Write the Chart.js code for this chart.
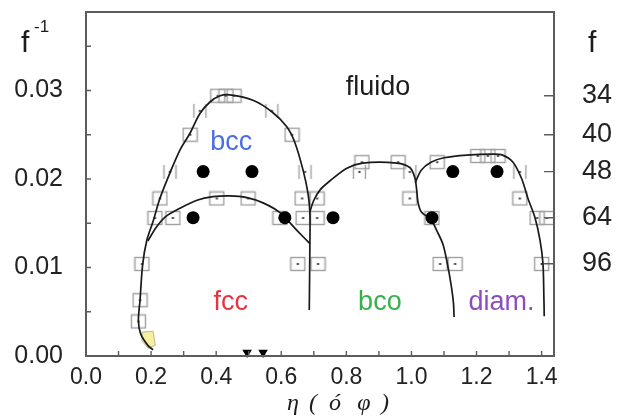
<!DOCTYPE html>
<html>
<head>
<meta charset="utf-8">
<script src="https://cdn.jsdelivr.net/npm/chart.js@4.4.1/dist/chart.umd.min.js"></script>
<style>
  html, body { margin: 0; padding: 0; background: #fff; }
  #wrap { width: 620px; height: 419px; position: relative; }
</style>
</head>
<body>
<div id="wrap"><canvas id="phase"></canvas></div>
<script>
// axis ticks
const xMajor = [0, 0.2, 0.4, 0.6, 0.8, 1.0, 1.2, 1.4];
const xMinor = [0.1, 0.3, 0.5, 0.7, 0.9, 1.1, 1.3];
const yMajor = [0, 0.01, 0.02, 0.03];
const yMinor = [0.005, 0.015, 0.025, 0.035];
const fTicks = [34, 40, 48, 64, 96];

// simulation points: open boxes and error-bar markers [eta, 1/f]
const boxPts = [
  [0.405, 0.0294], [0.43, 0.0294], [0.455, 0.0294],
  [0.32, 0.025], [0.633, 0.025],
  [0.848, 0.0219], [0.959, 0.0219], [1.079, 0.0219],
  [1.204, 0.0226], [1.235, 0.0226], [1.266, 0.0226],
  [0.227, 0.0178], [0.402, 0.0178], [0.498, 0.0178], [0.664, 0.0178], [0.71, 0.0178], [0.995, 0.0178], [1.333, 0.0178],
  [0.212, 0.0156], [0.267, 0.0156], [0.596, 0.0156], [0.667, 0.0156], [0.71, 0.0156], [1.063, 0.0156], [1.386, 0.0156], [1.416, 0.0156],
  [0.172, 0.0104], [0.651, 0.0104], [0.713, 0.0104], [1.088, 0.0104], [1.134, 0.0104], [1.40, 0.0104],
  [0.166, 0.0063], [0.161, 0.0039]
];
const barPts = [
  [0.35, 0.0277], [0.571, 0.0277],
  [0.258, 0.0208], [0.673, 0.0208], [0.84, 0.0208], [0.995, 0.0208], [1.333, 0.0208]
];

// filled circles at f = 48 and f = 64
const dotsF48 = [0.36, 0.51, 1.127, 1.263];
const dotsF64 = [0.329, 0.611, 0.759, 1.063];

// markers on the eta axis
const arrowsEta = [0.495, 0.544];
const arrowsLevel = 0.0004;

// phase boundaries
const bccLine = [
  [0.206, 0.0007], [0.19, 0.0012], [0.168, 0.0025], [0.161, 0.004], [0.166, 0.0063], [0.174, 0.0103],
  [0.187, 0.0131], [0.206, 0.0152], [0.227, 0.0178], [0.258, 0.0207], [0.289, 0.0233], [0.32, 0.0252],
  [0.35, 0.0274], [0.381, 0.0287], [0.412, 0.0294], [0.442, 0.0295], [0.513, 0.0289], [0.571, 0.0276],
  [0.617, 0.0259], [0.642, 0.0241], [0.667, 0.021], [0.682, 0.0184], [0.688, 0.0162], [0.688, 0.0128],
  [0.686, 0.0052]
];
const fccLine = [
  [0.19, 0.013], [0.215, 0.0145], [0.243, 0.0157], [0.289, 0.0167], [0.341, 0.0176], [0.39, 0.018],
  [0.442, 0.0181], [0.495, 0.0179], [0.544, 0.0173], [0.596, 0.0162], [0.648, 0.0142], [0.688, 0.0127]
];
const bcoLine = [
  [0.688, 0.0163], [0.70, 0.0176], [0.72, 0.0188], [0.75, 0.0198], [0.80, 0.0212], [0.85, 0.0218],
  [0.955, 0.0218], [0.995, 0.0213], [1.01, 0.0202], [1.016, 0.0188], [1.02, 0.0174], [1.03, 0.0163],
  [1.06, 0.0154], [1.08, 0.014], [1.097, 0.0126], [1.11, 0.0105], [1.122, 0.008], [1.129, 0.006],
  [1.131, 0.0044]
];
const diamLine = [
  [1.012, 0.0196], [1.03, 0.021], [1.06, 0.0219], [1.10, 0.0224], [1.17, 0.0227], [1.25, 0.0228],
  [1.28, 0.0227], [1.312, 0.0219], [1.339, 0.02], [1.358, 0.0178], [1.379, 0.0157], [1.395, 0.0131],
  [1.404, 0.0105], [1.407, 0.0065], [1.408, 0.0045]
];
const glassPatch = [
  [0.172, 0.0027], [0.206, 0.0028], [0.213, 0.0012], [0.19, 0.0009], [0.172, 0.0017], [0.172, 0.0027]
];

const Y_MAX = 0.03887;
const X_MAX = 1.438;
const FONT = '"Liberation Sans", Arial, sans-serif';

const xy = pts => pts.map(([x, y]) => ({ x, y }));

// small canvases used as point styles
function makeMarker(kind) {
  const c = document.createElement('canvas');
  c.width = 17; c.height = 16;
  const g = c.getContext('2d');
  g.strokeStyle = '#a0a0a0';
  g.lineWidth = 1.4;
  if (kind === 'box') {
    g.strokeRect(1.5, 1.5, 14, 13);
  } else {
    g.beginPath();
    g.moveTo(2.5, 1); g.lineTo(2.5, 15);
    g.moveTo(14.5, 1); g.lineTo(14.5, 15);
    g.stroke();
  }
  g.fillStyle = '#333';
  g.fillRect(7.5, 7, 2, 2);
  return c;
}

const boundary = (pts) => ({
  type: 'line',
  data: xy(pts),
  showLine: true,
  borderColor: '#1a1a1a',
  borderWidth: 1.7,
  pointRadius: 0,
  tension: 0.3,
  fill: false,
  order: 2
});

// fixed axis boxes so the plot frame sits where it should
const fixVertical = w => s => {
  s.width = w;
  s.paddingTop = 0;
  s.paddingBottom = 0;
};

// frame, inward ticks and all free text
const decor = {
  id: 'decor',
  afterDatasetsDraw(chart) {
    const { ctx, chartArea: a, scales: { x, y } } = chart;
    ctx.save();
    ctx.strokeStyle = '#5c5c5c';
    ctx.lineWidth = 2;
    ctx.strokeRect(a.left, a.top, a.right - a.left, a.bottom - a.top);

    ctx.lineWidth = 1.4;
    ctx.beginPath();
    [...xMajor, ...xMinor].forEach(v => {
      const px = x.getPixelForValue(v);
      ctx.moveTo(px, a.bottom); ctx.lineTo(px, a.bottom - 5);
    });
    [...yMajor, ...yMinor].forEach(v => {
      const py = y.getPixelForValue(v);
      ctx.moveTo(a.left, py); ctx.lineTo(a.left + 5, py);
    });
    fTicks.forEach(f => {
      const py = y.getPixelForValue(1 / f);
      ctx.moveTo(a.right, py); ctx.lineTo(a.right - 10, py);
    });
    ctx.stroke();

    // phase names
    ctx.textAlign = 'center';
    ctx.textBaseline = 'alphabetic';
    ctx.font = '27px ' + FONT;
    [
      ['fluido', 0.897, 0.0295, '#1c1c1c'],
      ['bcc', 0.446, 0.0233, '#4a6fe3'],
      ['fcc', 0.445, 0.0052, '#e8333f'],
      ['bco', 0.903, 0.0052, '#35b24a'],
      ['diam.', 1.277, 0.0052, '#8e4dbf']
    ].forEach(([t, vx, vy, col]) => {
      ctx.fillStyle = col;
      ctx.fillText(t, x.getPixelForValue(vx), y.getPixelForValue(vy));
    });

    // axis names
    ctx.fillStyle = '#1c1c1c';
    ctx.textAlign = 'left';
    ctx.font = '30px ' + FONT;
    ctx.fillText('f', 21, 52);
    ctx.fillText('f', 588, 52);
    ctx.font = '17px ' + FONT;
    ctx.fillText('-1', 34, 32);

    ctx.textAlign = 'center';
    ctx.font = 'italic 24px "Liberation Serif", serif';
    [['η', 293], ['(', 313], ['ó', 335], ['φ', 364], [')', 385]].forEach(([g, px]) => {
      ctx.fillText(g, px, 410);
    });
    ctx.restore();
  }
};

new Chart(document.getElementById('phase'), {
  type: 'scatter',
  data: {
    datasets: [
      {
        type: 'line',
        data: xy(glassPatch),
        borderColor: '#b9b79a',
        borderWidth: 1,
        backgroundColor: '#f7ef9e',
        fill: 'shape',
        pointRadius: 0,
        tension: 0,
        order: 5
      },
      {
        data: xy(boxPts),
        pointStyle: makeMarker('box'),
        pointRadius: 7,
        order: 4
      },
      {
        data: xy(barPts),
        pointStyle: makeMarker('bar'),
        pointRadius: 7,
        order: 4
      },
      boundary(bccLine),
      boundary(fccLine),
      boundary(bcoLine),
      boundary(diamLine),
      {
        data: [...dotsF48.map(x => ({ x, y: 1 / 48 })), ...dotsF64.map(x => ({ x, y: 1 / 64 }))],
        pointStyle: 'circle',
        pointRadius: 6.5,
        backgroundColor: '#000',
        borderWidth: 0,
        order: 1
      },
      {
        data: arrowsEta.map(x => ({ x, y: arrowsLevel })),
        pointStyle: 'triangle',
        rotation: 180,
        pointRadius: 5.5,
        backgroundColor: '#000',
        borderWidth: 0,
        clip: false,
        order: 1
      }
    ]
  },
  options: {
    responsive: true,
    maintainAspectRatio: false,
    animation: false,
    events: [],
    layout: { autoPadding: false, padding: { top: 12, left: 0, right: 0, bottom: 0 } },
    plugins: { legend: { display: false }, tooltip: { enabled: false } },
    scales: {
      x: {
        type: 'linear',
        min: 0,
        max: X_MAX,
        grid: { display: false, drawTicks: false },
        border: { display: false },
        afterBuildTicks: s => { s.ticks = xMajor.map(value => ({ value })); },
        afterFit: s => { s.height = 63; s.paddingLeft = 0; s.paddingRight = 0; },
        ticks: {
          autoSkip: false,
          maxRotation: 0,
          padding: 8,
          color: '#222',
          font: { family: FONT, size: 23 },
          callback: v => v.toFixed(1)
        }
      },
      y: {
        type: 'linear',
        position: 'left',
        min: 0,
        max: Y_MAX,
        grid: { display: false, drawTicks: false },
        border: { display: false },
        afterBuildTicks: s => { s.ticks = yMajor.map(value => ({ value })); },
        afterFit: fixVertical(86),
        ticks: {
          autoSkip: false,
          padding: 23,
          color: '#222',
          font: { family: FONT, size: 25 },
          callback: v => v.toFixed(2)
        }
      },
      y2: {
        type: 'linear',
        position: 'right',
        min: 0,
        max: Y_MAX,
        grid: { display: false, drawTicks: false },
        border: { display: false },
        afterBuildTicks: s => { s.ticks = fTicks.map(f => ({ value: 1 / f })); },
        afterFit: fixVertical(66),
        ticks: {
          autoSkip: false,
          padding: 28,
          color: '#222',
          font: { family: FONT, size: 27 },
          callback: v => String(Math.round(1 / v))
        }
      }
    }
  },
  plugins: [decor]
});
</script>
</body>
</html>
